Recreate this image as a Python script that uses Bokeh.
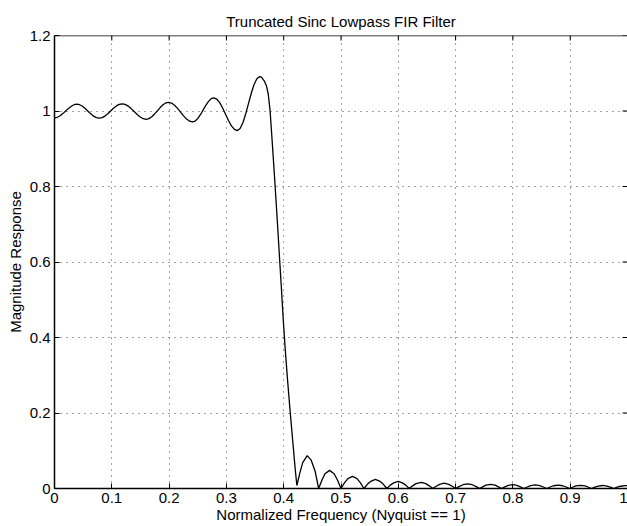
from bokeh.plotting import figure
from bokeh.models import Range1d, FixedTicker, Span
from bokeh.embed import file_html
from bokeh.resources import INLINE

# ---- data ----
title_text = "Truncated Sinc Lowpass FIR Filter"
x_label = "Normalized Frequency (Nyquist == 1)"
y_label = "Magnitude Response"

x_ticks = [0, 0.1, 0.2, 0.3, 0.4, 0.5, 0.6, 0.7, 0.8, 0.9, 1.0]
x_tick_labels = ["0", "0.1", "0.2", "0.3", "0.4", "0.5", "0.6", "0.7", "0.8", "0.9", "1"]
y_ticks = [0, 0.2, 0.4, 0.6, 0.8, 1.0, 1.2]
y_tick_labels = ["0", "0.2", "0.4", "0.6", "0.8", "1", "1.2"]

passband_freq = [0.0, 0.0049, 0.0098, 0.0146, 0.0195, 0.0244, 0.0293, 0.0341,
                 0.039, 0.0439, 0.0488, 0.0536, 0.0585, 0.0634, 0.0683, 0.0731,
                 0.078, 0.083, 0.088, 0.093, 0.098, 0.103, 0.108, 0.113,
                 0.118, 0.1233, 0.1285, 0.1338, 0.139, 0.1443, 0.1495, 0.1548,
                 0.160, 0.1649, 0.1698, 0.1746, 0.1795, 0.1844, 0.1893, 0.1941,
                 0.199, 0.2043, 0.2095, 0.2148, 0.220, 0.2253, 0.2305, 0.2358,
                 0.241, 0.2456, 0.2503, 0.2549, 0.2595, 0.2641, 0.2688, 0.2734,
                 0.278, 0.2831, 0.2883, 0.2934, 0.2985, 0.3036, 0.3088, 0.3139,
                 0.319, 0.3239, 0.3288, 0.3336, 0.3385, 0.3434, 0.3483, 0.3531,
                 0.358]
passband_mag = [0.982, 0.9834, 0.9873, 0.9931, 1.000, 1.0069, 1.0127, 1.0166,
                1.018, 1.0166, 1.0126, 1.0066, 0.9995, 0.9924, 0.9864, 0.9824,
                0.981, 0.9824, 0.9866, 0.9927, 1.000, 1.0073, 1.0134, 1.0176,
                1.019, 1.0174, 1.013, 1.0063, 0.9985, 0.9907, 0.984, 0.9796,
                0.978, 0.9797, 0.9846, 0.9919, 1.0005, 1.0091, 1.0164, 1.0213,
                1.023, 1.021, 1.0154, 1.007, 0.997, 0.9871, 0.9786, 0.973,
                0.971, 0.9734, 0.9804, 0.9908, 1.003, 1.0152, 1.0256, 1.0326,
                1.035, 1.0317, 1.0223, 1.0081, 0.9915, 0.9749, 0.9607, 0.9513,
                0.948, 0.9535, 0.9689, 0.9921, 1.0195, 1.0469, 1.0701, 1.0856,
                1.091]

transition_freq = [0.360, 0.362, 0.366, 0.370, 0.373, 0.3762, 0.3798, 0.3833, 0.3866, 0.3899,
                   0.3930, 0.3962, 0.3993, 0.4028, 0.4068, 0.4111, 0.4157, 0.4203, 0.4230]
transition_mag = [1.0905, 1.088, 1.080, 1.066, 1.045, 1.001, 0.922, 0.842, 0.763, 0.683,
                  0.604, 0.525, 0.445, 0.366, 0.286, 0.207, 0.127, 0.048, 0.008]

stopband_freq = [0.428, 0.433, 0.441, 0.448, 0.455, 0.461,
                 0.467, 0.472, 0.480, 0.488, 0.494, 0.500,
                 0.506, 0.512, 0.520, 0.528, 0.534, 0.540,
                 0.546, 0.552, 0.560, 0.568, 0.574, 0.580,
                 0.586, 0.592, 0.600, 0.607, 0.613, 0.619,
                 0.625, 0.631, 0.640, 0.648, 0.654, 0.660,
                 0.666, 0.672, 0.680, 0.688, 0.694, 0.700,
                 0.706, 0.713, 0.721, 0.729, 0.736, 0.742,
                 0.748, 0.753, 0.761, 0.769, 0.774, 0.780,
                 0.786, 0.792, 0.800, 0.807, 0.813, 0.819,
                 0.825, 0.831, 0.839, 0.847, 0.853, 0.859,
                 0.865, 0.871, 0.879, 0.887, 0.893, 0.899,
                 0.905, 0.910, 0.918, 0.926, 0.931, 0.937,
                 0.943, 0.949, 0.957, 0.964, 0.970, 0.976,
                 0.982, 0.988, 0.996, 1.000]
stopband_mag = [0.040, 0.068, 0.087, 0.075, 0.045, 0.0,
                0.023, 0.039, 0.048, 0.039, 0.022, 0.0,
                0.015, 0.026, 0.032, 0.026, 0.015, 0.0,
                0.011, 0.019, 0.024, 0.019, 0.011, 0.0,
                0.009, 0.015, 0.019, 0.015, 0.009, 0.0,
                0.007, 0.013, 0.016, 0.013, 0.007, 0.0,
                0.006, 0.011, 0.014, 0.011, 0.006, 0.0,
                0.005, 0.010, 0.012, 0.010, 0.005, 0.0,
                0.005, 0.009, 0.011, 0.009, 0.005, 0.0,
                0.0045, 0.008, 0.010, 0.008, 0.0045, 0.0,
                0.004, 0.0077, 0.0095, 0.0077, 0.004, 0.0,
                0.004, 0.0073, 0.009, 0.0073, 0.004, 0.0,
                0.004, 0.007, 0.0085, 0.007, 0.004, 0.0,
                0.0036, 0.0065, 0.008, 0.0065, 0.0036, 0.0,
                0.0035, 0.006, 0.0075, 0.0078]

freq = passband_freq + transition_freq + stopband_freq
mag = passband_mag + transition_mag + stopband_mag

FONT = "Liberation Sans"
FS = "15px"

x_min, x_max = x_ticks[0], x_ticks[-1]
y_min, y_max = y_ticks[0], y_ticks[-1]

p = figure(width=627, height=526, output_backend="svg", toolbar_location=None,
           x_range=Range1d(x_min, x_max), y_range=Range1d(y_min, y_max),
           min_border_left=54, min_border_right=0, min_border_top=35, min_border_bottom=38)
p.outline_line_color = None
p.background_fill_color = "white"
p.border_fill_color = "white"

# title
p.title.text = title_text
p.title.align = "center"
p.title.text_font = FONT
p.title.text_font_size = FS
p.title.text_font_style = "normal"
p.title.text_color = "black"
p.title.standoff = 11

# grid
for g, t in ((p.xgrid, x_ticks), (p.ygrid, y_ticks)):
    g.ticker = FixedTicker(ticks=t)
    g.grid_line_color = "#444444"
    g.grid_line_dash = "1 5"
    g.grid_line_width = 1

def style_axis(ax, ticks, labels):
    ax.ticker = FixedTicker(ticks=ticks)
    ax.major_label_overrides = {t: l for t, l in zip(ticks, labels)}
    ax.major_tick_in = 5
    ax.major_tick_out = 0
    ax.minor_tick_line_color = None
    ax.axis_line_color = "black"
    ax.axis_line_width = 1.5
    ax.major_tick_line_color = "black"
    ax.major_tick_line_width = 1
    ax.major_label_text_font = FONT
    ax.major_label_text_color = "black"
    ax.major_label_text_font_size = FS
    ax.major_label_standoff = 4
    ax.axis_label_text_font = FONT
    ax.axis_label_text_font_size = FS
    ax.axis_label_text_font_style = "normal"
    ax.axis_label_text_color = "black"

xa = p.xaxis[0]
style_axis(xa, x_ticks, x_tick_labels)
xa.axis_label = x_label
xa.axis_label_standoff = 0

ya = p.yaxis[0]
style_axis(ya, y_ticks, y_tick_labels)
ya.axis_label = y_label
ya.axis_label_standoff = 3

# top box edge with inward ticks, and inward ticks on the right edge
p.add_layout(Span(location=y_max, dimension="width", line_color="black", line_width=1.5))
p.scatter(x_ticks, [y_max] * len(x_ticks), marker="dash", angle=1.5707963, size=10,
          line_color="black", line_width=1)
p.scatter([x_max] * len(y_ticks), y_ticks, marker="dash", size=10,
          line_color="black", line_width=1)

p.line(freq, mag, line_color="black", line_width=1.3)

open("out.html", "w").write(file_html(p, INLINE))
